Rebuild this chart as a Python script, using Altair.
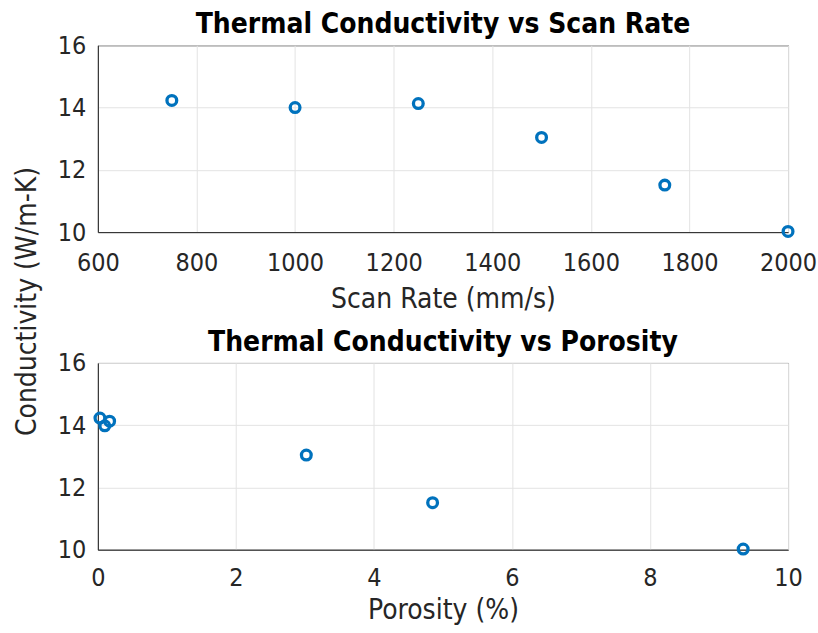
import altair as alt
import pandas as pd

scan_rate = [750, 1000, 1250, 1500, 1750, 2000]
porosity = [0.03, 0.10, 0.17, 3.02, 4.85, 9.35]
conductivity_scan = [14.23, 14.0, 14.13, 13.04, 11.51, 10.02]
conductivity_por = [14.23, 13.98, 14.13, 13.04, 11.51, 10.02]

x1_ticks = [600, 800, 1000, 1200, 1400, 1600, 1800, 2000]
x2_ticks = [0, 2, 4, 6, 8, 10]
y_ticks = [10, 12, 14, 16]

df1 = pd.DataFrame({"x": scan_rate, "y": conductivity_scan})
df2 = pd.DataFrame({"x": porosity, "y": conductivity_por})

FONT = "'Liberation Sans Narrow', 'DejaVu Sans Condensed', 'Liberation Sans', sans-serif"
AX = "#262626"
BLUE = "#0072BD"
W, H = 691, 187

def panel(df, xdom, xticks, xtitle, title, ylabel, lpad, tpad):
    if ylabel:
        yaxis = alt.Axis(values=y_ticks, title=ylabel, grid=True, format="d",
                         titleAngle=-90, titleX=-70, titleY=256,
                         titleAlign="center", titleBaseline="middle",
                         titleFontSize=28)
    else:
        yaxis = alt.Axis(values=y_ticks, title=None, grid=True, format="d")
    return alt.Chart(df).mark_point(
        shape="circle", filled=False, size=95, strokeWidth=3.3, color=BLUE, opacity=1
    ).encode(
        x=alt.X("x:Q", scale=alt.Scale(domain=xdom, nice=False, zero=False),
                axis=alt.Axis(values=xticks, title=xtitle, grid=True, format="d",
                              labelPadding=lpad, titlePadding=tpad, labelFlush=False)),
        y=alt.Y("y:Q", scale=alt.Scale(domain=[10, 16], nice=False, zero=False),
                axis=yaxis),
    ).properties(width=W, height=H,
                 title=alt.TitleParams(title, font=FONT, fontSize=28, fontWeight="bold",
                                       color="#000000", offset=-6))

top = panel(df1, [600, 2000], x1_ticks, "Scan Rate (mm/s)",
            "Thermal Conductivity vs Scan Rate", "Conductivity (W/m-K)", 18, 10)
bot = panel(df2, [0, 10], x2_ticks, "Porosity (%)",
            "Thermal Conductivity vs Porosity", None, 16, 6)

chart = alt.vconcat(top, bot, spacing=131, bounds="flush").properties(
    padding={"left": 13, "top": 10, "right": 0, "bottom": 0},
    background="white",
).configure_axis(
    domainColor=AX, domainWidth=1, ticks=False,
    labelFont=FONT, labelFontSize=25, labelColor=AX, labelPadding=12,
    titleFont=FONT, titleFontSize=28, titleColor=AX, titleFontWeight="normal",
    gridColor="#e3e3e3", gridWidth=1,
).configure_view(stroke=AX, strokeWidth=1)

chart.save("out.html", embed_options={"renderer": "svg", "actions": False})
